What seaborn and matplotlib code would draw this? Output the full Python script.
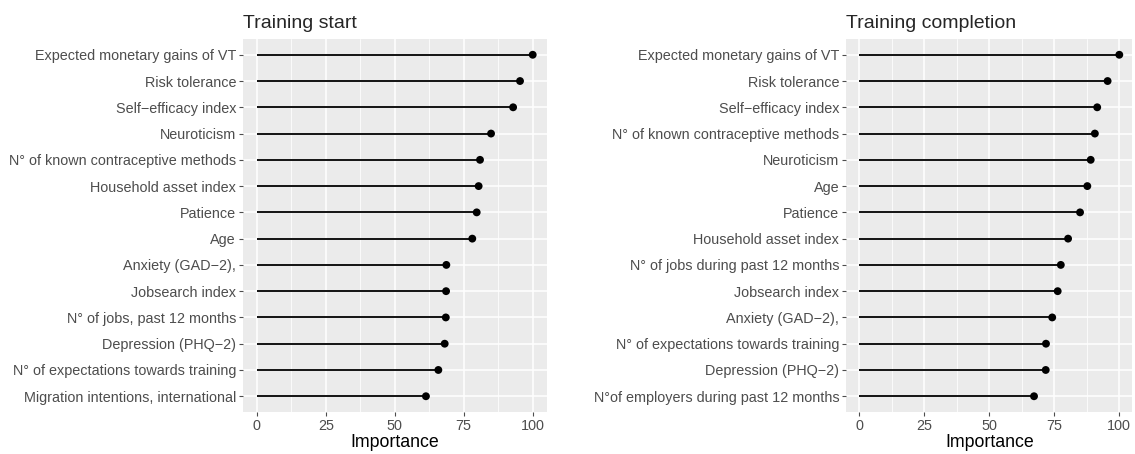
import numpy as np
import pandas as pd
import matplotlib.pyplot as plt
import seaborn as sns

# variable importance at training start (top to bottom)
start_labels = [
    'Expected monetary gains of VT', 'Risk tolerance', 'Self\u2212efficacy index',
    'Neuroticism', 'N\u00b0 of known contraceptive methods', 'Household asset index',
    'Patience', 'Age', 'Anxiety (GAD\u22122),', 'Jobsearch index',
    'N\u00b0 of jobs, past 12 months', 'Depression (PHQ\u22122)',
    'N\u00b0 of expectations towards training', 'Migration intentions, international',
]
start_values = [100, 95.4, 92.9, 84.9, 80.9, 80.4, 79.7, 78.1, 68.7, 68.6, 68.5, 68.1, 65.8, 61.3]

# variable importance at training completion (top to bottom)
end_labels = [
    'Expected monetary gains of VT', 'Risk tolerance', 'Self\u2212efficacy index',
    'N\u00b0 of known contraceptive methods', 'Neuroticism', 'Age', 'Patience',
    'Household asset index', 'N\u00b0 of jobs during past 12 months', 'Jobsearch index',
    'Anxiety (GAD\u22122),', 'N\u00b0 of expectations towards training',
    'Depression (PHQ\u22122)', 'N\u00b0of employers during past 12 months',
]
end_values = [100, 95.5, 91.5, 90.6, 89.0, 87.7, 84.9, 80.3, 77.5, 76.3, 74.2, 71.8, 71.7, 67.2]

sns.set_theme(style="darkgrid", rc={
    'axes.facecolor': '#EBEBEB',
    'grid.color': 'white',
    'axes.edgecolor': '#EBEBEB',
    'xtick.color': '#4D4D4D',
    'ytick.color': '#4D4D4D',
    'xtick.major.size': 3,
    'ytick.major.size': 3,
    'xtick.major.width': 0.8,
    'ytick.major.width': 0.8,
    'xtick.bottom': True,
    'ytick.left': True,
})
plt.rcParams['font.family'] = ['Liberation Sans', 'DejaVu Sans']

fig = plt.figure(figsize=(11.35, 4.54), dpi=100)
W, H = 1135, 454
ax1 = fig.add_axes([243 / W, 1 - 412 / H, (546.5 - 243) / W, (412 - 39) / H])
ax2 = fig.add_axes([846.3 / W, 1 - 412 / H, (1132.3 - 846.3) / W, (412 - 39) / H])

for ax, labels, values, title in [
    (ax1, start_labels, start_values, 'Training start'),
    (ax2, end_labels, end_values, 'Training completion'),
]:
    df = pd.DataFrame({'Variable': labels, 'Importance': values})
    ypos = np.arange(len(labels))
    ax.hlines(ypos, 0, df['Importance'], color='black', linewidth=1.3, zorder=3)
    sns.scatterplot(data=df, x='Importance', y='Variable', ax=ax, color='black',
                    s=32, edgecolor='none', zorder=4)
    ax.set_xlim(-5, 105)
    ax.set_ylim(len(labels) - 0.4, -0.6)
    ax.set_xticks([0, 25, 50, 75, 100])
    ax.set_xticks([12.5, 37.5, 62.5, 87.5], minor=True)
    ax.grid(True, which='major', color='white', linewidth=1.1)
    ax.grid(True, which='minor', axis='x', color='white', linewidth=0.55)
    ax.tick_params(axis='both', which='major', labelsize=10.4, labelcolor='#4D4D4D', pad=2)
    ax.tick_params(axis='x', which='minor', length=0)
    ax.set_xlabel('Importance', fontsize=12.8, color='black', labelpad=1)
    ax.set_ylabel('')
    ax.set_title(title, fontsize=14, loc='left', pad=8)
    for s in ax.spines.values():
        s.set_visible(False)

fig.savefig('out.png', dpi=100)
